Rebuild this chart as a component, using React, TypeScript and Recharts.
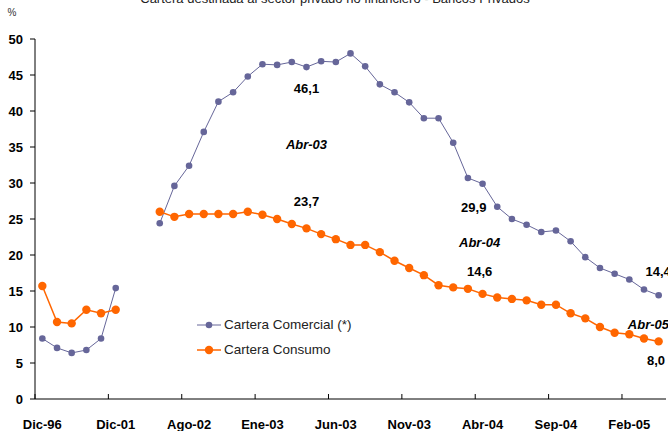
import React from 'react'
import { LineChart, Line, XAxis, YAxis, Legend, ReferenceDot } from 'recharts'

// one category per point; the gap after Dic-01 stays empty
const categories = [
  'Dic-96', 'Dic-97', 'Dic-98', 'Dic-99', 'Dic-00', 'Dic-01', 'Abr-02', 'May-02',
  'Jun-02', 'Jul-02', 'Ago-02', 'Sep-02', 'Oct-02', 'Nov-02', 'Dic-02',
  'Ene-03', 'Feb-03', 'Mar-03', 'Abr-03', 'May-03', 'Jun-03', 'Jul-03', 'Ago-03', 'Sep-03', 'Oct-03', 'Nov-03', 'Dic-03',
  'Ene-04', 'Feb-04', 'Mar-04', 'Abr-04', 'May-04', 'Jun-04', 'Jul-04', 'Ago-04', 'Sep-04', 'Oct-04', 'Nov-04', 'Dic-04',
  'Ene-05', 'Feb-05', 'Mar-05', 'Abr-05',
]

const comercial = [
  8.4, 7.1, 6.4, 6.8, 8.4, 15.4, null, null,
  24.4, 29.6, 32.4, 37.1, 41.3, 42.6, 44.8,
  46.5, 46.4, 46.8, 46.1, 46.9, 46.8, 48.0, 46.2, 43.7, 42.6, 41.2, 39.0,
  39.0, 35.6, 30.7, 29.9, 26.7, 25.0, 24.2, 23.2, 23.4, 21.9, 19.7, 18.2,
  17.4, 16.6, 15.2, 14.4,
]

const consumo = [
  15.7, 10.7, 10.5, 12.4, 11.9, 12.4, null, null,
  26.0, 25.3, 25.7, 25.7, 25.7, 25.7, 26.0,
  25.6, 25.0, 24.3, 23.7, 22.9, 22.2, 21.4, 21.4, 20.4, 19.2, 18.2, 17.2,
  15.8, 15.5, 15.3, 14.6, 14.1, 13.9, 13.7, 13.1, 13.1, 11.9, 11.2, 10.0,
  9.2, 9.0, 8.4, 8.0,
]

const tickLabels = ['Dic-96', 'Dic-01', 'Ago-02', 'Ene-03', 'Jun-03', 'Nov-03', 'Abr-04', 'Sep-04', 'Feb-05']
const yTicks = [0, 5, 10, 15, 20, 25, 30, 35, 40, 45, 50]

// annotation texts (x in category units, y in %)
const notes = [
  { x: 18, y: 43.2, text: '46,1', italic: false, anchor: 'middle' },
  { x: 18, y: 35.4, text: 'Abr-03', italic: true, anchor: 'middle' },
  { x: 18, y: 27.5, text: '23,7', italic: false, anchor: 'middle' },
  { x: 29.4, y: 26.6, text: '29,9', italic: false, anchor: 'middle' },
  { x: 29.8, y: 21.8, text: 'Abr-04', italic: true, anchor: 'middle' },
  { x: 29.8, y: 17.8, text: '14,6', italic: false, anchor: 'middle' },
  { x: 41.1, y: 17.8, text: '14,4', italic: false, anchor: 'start' },
  { x: 39.9, y: 10.4, text: 'Abr-05', italic: true, anchor: 'start' },
  { x: 41.2, y: 5.4, text: '8,0', italic: false, anchor: 'start' },
]

const PURPLE = '#666699'
const ORANGE = '#ff6600'
const FONT = '"Liberation Sans", Arial, sans-serif'

const W = 668
const H = 431
const margin = { top: 39, right: 2, left: 0, bottom: 0 }
const yAxisWidth = 35
const xAxisHeight = 32
const halfBand = (W - margin.right - yAxisWidth) / categories.length / 2

const data = categories.map((label, i) => ({
  idx: i,
  label,
  comercial: comercial[i],
  consumo: consumo[i],
}))

function XTick(props: any) {
  const { x, y, payload } = props
  const lx = x - halfBand
  return (
    <g>
      <line x1={lx} y1={y} x2={lx} y2={y - 5} stroke="#000" />
      <text x={x} y={y + 30} textAnchor="middle" fontFamily={FONT} fontSize={13} fontWeight="bold" fill="#000">
        {categories[payload.value]}
      </text>
    </g>
  )
}

function LegendBox() {
  const rows = [
    { name: 'Cartera Comercial (*)', color: PURPLE, r: 3.3, w: 1 },
    { name: 'Cartera Consumo', color: ORANGE, r: 4.2, w: 1.5 },
  ]
  return (
    <div style={{ fontFamily: FONT, fontSize: 13.5, color: '#222' }}>
      {rows.map((row) => (
        <div key={row.name} style={{ display: 'flex', alignItems: 'center', height: 25 }}>
          <svg width={26} height={12} style={{ marginRight: 1 }}>
            <line x1={0} y1={6} x2={24} y2={6} stroke={row.color} strokeWidth={row.w} />
            <circle cx={12} cy={6} r={row.r} fill={row.color} />
          </svg>
          <span>{row.name}</span>
        </div>
      ))}
    </div>
  )
}

function noteLabel(n: typeof notes[number]) {
  return (props: any) => {
    const vb = props.viewBox || {}
    const cx = vb.x + (vb.width || 0) / 2
    const cy = vb.y + (vb.height || 0) / 2
    return (
      <text
        x={cx}
        y={cy}
        dy="0.36em"
        textAnchor={n.anchor}
        fontFamily={FONT}
        fontSize={13}
        fontWeight="bold"
        fontStyle={n.italic ? 'italic' : 'normal'}
        fill="#000"
      >
        {n.text}
      </text>
    )
  }
}

export default function App() {
  return (
    <div style={{ position: 'absolute', left: 0, top: 0, width: W, height: H, background: '#fff', overflow: 'hidden' }}>
      <LineChart width={W} height={H} data={data} margin={margin}>
        <XAxis
          dataKey="idx"
          type="number"
          domain={[-0.5, categories.length - 0.5]}
          ticks={tickLabels.map((l) => categories.indexOf(l))}
          interval={0}
          height={xAxisHeight}
          tickSize={0}
          tickMargin={0}
          tick={<XTick />}
          axisLine={{ stroke: '#000' }}
        />
        <YAxis
          domain={[0, 50]}
          ticks={yTicks}
          width={yAxisWidth}
          tickSize={5}
          tickMargin={7}
          axisLine={{ stroke: '#000' }}
          tickLine={{ stroke: '#000' }}
          tick={{ fill: '#000', fontSize: 13, fontWeight: 'bold', fontFamily: FONT }}
        />
        <Line
          dataKey="comercial"
          name="Cartera Comercial (*)"
          stroke={PURPLE}
          strokeWidth={1}
          dot={{ r: 3.3, fill: PURPLE, stroke: PURPLE, strokeWidth: 0 }}
          isAnimationActive={false}
        />
        <Line
          dataKey="consumo"
          name="Cartera Consumo"
          stroke={ORANGE}
          strokeWidth={1.5}
          dot={{ r: 4.2, fill: ORANGE, stroke: ORANGE, strokeWidth: 0 }}
          isAnimationActive={false}
        />
        {notes.map((n) => (
          <ReferenceDot
            key={n.text}
            x={n.x}
            y={n.y}
            r={1}
            fill="none"
            stroke="none"
            ifOverflow="visible"
            label={noteLabel(n)}
          />
        ))}
        <Legend
          layout="vertical"
          align="center"
          verticalAlign="middle"
          content={() => <LegendBox />}
          wrapperStyle={{ left: 197, top: 312, width: 200 }}
        />
      </LineChart>
      <svg width={W} height={H} style={{ position: 'absolute', left: 0, top: 0, pointerEvents: 'none' }}>
        <text x={335} y={3} textAnchor="middle" fontFamily={FONT} fontSize={13} fill="#222">
          Cartera destinada al sector privado no financiero - Bancos Privados
        </text>
        <text x={12} y={16} textAnchor="middle" fontFamily={FONT} fontSize={10} fill="#333">
          %
        </text>
      </svg>
    </div>
  )
}
